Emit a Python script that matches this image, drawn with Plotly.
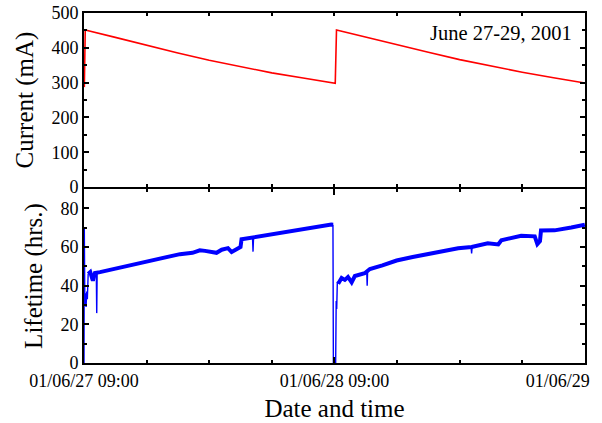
import pandas as pd
import plotly.graph_objects as go

BASE = pd.Timestamp("2001-06-27 09:00")

# ---- Beam current (mA), hours since 01/06/27 09:00 ----
cur_hours = [0.03, 0.12, 3.0, 6.0, 9.0, 12.0, 15.0, 18.0, 21.0, 24.0, 24.08, 24.2,
             27.0, 30.0, 33.0, 36.0, 39.0, 42.0, 45.0, 48.0]
cur_vals = [287, 451, 430, 407, 385, 364, 345, 328, 313, 298, 298, 451,
            430, 408, 387, 366, 347, 330, 314, 299]

# ---- Beam lifetime (hrs.), trend of the noisy band ----
life_hours = [0.40, 0.6, 0.85, 1.05, 1.53, 2.78, 4.4, 6.0, 7.76, 9.2, 10.4, 11.1, 11.6,
              12.7, 13.2, 13.8, 14.15, 14.75, 15.0, 15.1, 16.2, 18.0, 19.7, 21.2, 22.6,
              23.7, 23.88,
              None,
              24.36, 24.69, 25.0, 25.3, 25.65, 25.96, 26.9, 27.4, 28.6, 29.96, 31.5,
              33.15, 34.6, 35.86, 37.15, 38.7, 39.7, 40.0, 41.9, 43.2, 43.45, 43.7,
              43.8, 45.1, 46.7, 48.0]
life_vals = [46, 47, 42.6, 46.5, 47, 48.6, 50.5, 52.5, 54.5, 56.3, 57, 58.3, 58,
             57.0, 58.6, 59.4, 57.4, 59.5, 60, 64, 65, 66.8, 68.3, 69.5, 70.6,
             71.6, 71.5,
             None,
             41, 44, 43, 44.5, 41.7, 45, 46.4, 48.6, 50.5, 53, 54.8,
             56.4, 58, 59.3, 60, 61.9, 61.3, 63.5, 65.8, 65.5, 61.5, 63,
             68.5, 68.6, 70.1, 71.5]

# ---- Lifetime details: injection transients and short dips ----
det_hours = [0.0, 0.03, 0.08, 0.14, 0.2, 0.26, 0.32, 0.40, None,
             1.18, 1.22, 1.26, None,
             16.15, 16.2, 16.25, None,
             23.86, 23.9, 24.12, 24.17, 24.22, 24.28, 24.36, None,
             27.1, 27.14, 27.18, None,
             37.1, 37.15, 37.2]
det_vals = [0, 70, 30, 36, 29, 37, 33, 46, None,
            47, 25.8, 47, None,
            65, 57.6, 65, None,
            71.5, 0, 0, 32, 28, 42, 41, None,
            47, 40, 47, None,
            60, 56.7, 60]

x_tick_vals = ["2001-06-27 09:00", "2001-06-28 09:00", "2001-06-29 09:00"]
x_tick_text = ["01/06/27 09:00", "01/06/28 09:00", "01/06/29" + "\u00a0" * 12]


def to_time(hours):
    return [None if h is None else BASE + pd.Timedelta(hours=h) for h in hours]


FONT = "Liberation Serif"
GAP = 1.0 / 350

fig = go.Figure()
fig.add_trace(go.Scatter(x=to_time(cur_hours), y=cur_vals, mode="lines",
                         line=dict(color="#ff0000", width=1.6),
                         xaxis="x2", yaxis="y2", showlegend=False))
fig.add_trace(go.Scatter(x=to_time(life_hours), y=life_vals, mode="lines",
                         line=dict(color="#0000ff", width=4),
                         connectgaps=False, xaxis="x", yaxis="y", showlegend=False))
fig.add_trace(go.Scatter(x=to_time(det_hours), y=det_vals, mode="lines",
                         line=dict(color="#0000ff", width=1.4),
                         connectgaps=False, xaxis="x", yaxis="y", showlegend=False))

xrange = [BASE, BASE + pd.Timedelta(hours=48, minutes=1)]
common_x = dict(range=xrange, type="date", showline=True, linecolor="black",
                linewidth=2, mirror="ticks", ticks="inside", ticklen=6,
                tickwidth=1.5, tickcolor="black", showgrid=False, zeroline=False,
                tickmode="array", tickvals=x_tick_vals, automargin=False,
                minor=dict(tickmode="linear", tick0="2001-06-27 09:00",
                           dtick=6 * 3600 * 1000, ticks="inside", ticklen=3,
                           tickwidth=1.5, tickcolor="black", showgrid=False))

common_y = dict(showline=True, linecolor="black", linewidth=2, mirror="ticks",
                ticks="inside", ticklen=5, tickwidth=1.5, tickcolor="black",
                showgrid=False, zeroline=False, automargin=False,
                tickfont=dict(family=FONT, size=18, color="black"))

fig.update_layout(
    width=602, height=423,
    margin=dict(l=84, r=17, t=13, b=60),
    paper_bgcolor="white", plot_bgcolor="white",
    font=dict(family=FONT, size=18, color="black"),
    xaxis=dict(**common_x, anchor="y", ticktext=x_tick_text,
               ticklabeloverflow="allow",
               tickfont=dict(family=FONT, size=18, color="black"),
               title=dict(text="Date and time", font=dict(family=FONT, size=25),
                          standoff=10)),
    xaxis2=dict(**common_x, anchor="y2", matches="x", ticktext=["", "", ""],
                showticklabels=False),
    yaxis=dict(**common_y, domain=[0, 0.5 - GAP], range=[0, 90], dtick=20, tick0=0,
               minor=dict(dtick=10, ticks="inside", ticklen=3, tickwidth=1.5,
                          tickcolor="black", showgrid=False),
               title=dict(text="Lifetime (hrs.)", font=dict(family=FONT, size=25),
                          standoff=11)),
    yaxis2=dict(**common_y, domain=[0.5 + GAP, 1], range=[0, 500], dtick=100, tick0=0,
                minor=dict(dtick=50, ticks="inside", ticklen=3, tickwidth=1.5,
                           tickcolor="black", showgrid=False),
                title=dict(text="Current (mA)", font=dict(family=FONT, size=25),
                           standoff=11)),
    annotations=[dict(text="June 27-29, 2001", xref="paper", yref="paper",
                      x=0.978, y=0.943, xanchor="right", yanchor="middle",
                      showarrow=False, font=dict(family=FONT, size=20.5, color="black"))],
)

fig.write_html("out.html", config={"displayModeBar": False},
               post_script="document.body.style.margin='0';document.body.style.overflow='hidden';")
